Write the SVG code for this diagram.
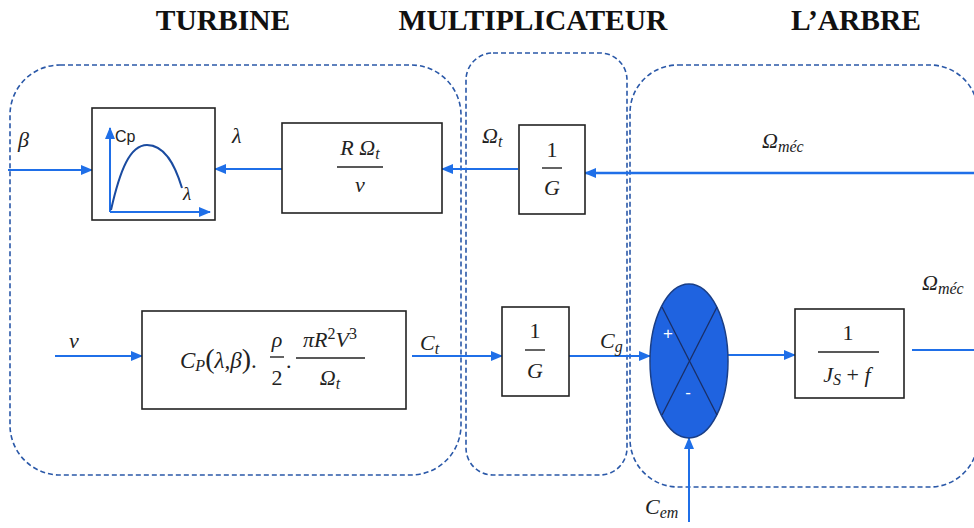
<svg xmlns="http://www.w3.org/2000/svg" width="974" height="528" viewBox="0 0 974 528">
<defs>
<marker id="ah" markerWidth="12" markerHeight="10" refX="11" refY="5" orient="auto" markerUnits="userSpaceOnUse">
<path d="M0,0 L12,5 L0,10 Z" fill="#1f6fe8"/>
</marker>
<style>
.title{font-family:"Liberation Serif","Times New Roman",serif;font-weight:bold;font-size:29.5px;fill:#111}
.grp{fill:none;stroke:#2a58a8;stroke-width:1.6;stroke-dasharray:5 3}
.box{fill:#fff;stroke:#222;stroke-width:1.6}
.m{font-family:"Liberation Serif","Times New Roman",serif;font-style:italic;font-size:22px;fill:#222}
.mu{font-family:"Liberation Serif","Times New Roman",serif;font-size:22px;fill:#222}
.bar{stroke:#222;stroke-width:1.4}
.arr{fill:none;stroke:#1f6fe8;stroke-width:2;marker-end:url(#ah)}
.ln{fill:none;stroke:#1f6fe8;stroke-width:2}
.sub{font-size:16px}
</style>
</defs>

<g id="titles">
<text class="title" x="223" y="30" text-anchor="middle">TURBINE</text>
<text class="title" x="533" y="30" text-anchor="middle">MULTIPLICATEUR</text>
<text class="title" x="856" y="30" text-anchor="middle">L’ARBRE</text>
</g>

<g id="groups">
<rect id="grp-turbine" class="grp" x="10" y="65" width="451" height="410" rx="50"/>
<rect id="grp-multiplicateur" class="grp" x="466" y="53" width="161" height="422" rx="27"/>
<rect id="grp-arbre" class="grp" x="630" y="65" width="348" height="422" rx="48"/>
</g>

<g id="connectors">
<line class="arr" x1="8" y1="170" x2="92" y2="170"/>
<line class="arr" x1="282" y1="169" x2="215" y2="169"/>
<line class="arr" x1="518" y1="169" x2="442" y2="169"/>
<line class="arr" x1="974" y1="173" x2="585" y2="173" style="stroke-width:2.6"/>
<line class="arr" x1="55" y1="356" x2="142" y2="356"/>
<line class="arr" x1="412" y1="356" x2="502" y2="356"/>
<line class="arr" x1="569" y1="356" x2="650" y2="356"/>
<line class="arr" x1="728" y1="355" x2="795" y2="355"/>
<line class="ln" x1="912" y1="350" x2="974" y2="350"/>
<line class="arr" x1="689" y1="522" x2="689" y2="438"/>
</g>

<g id="node-cp-curve">
<rect class="box" x="92" y="108" width="123" height="112"/>
<line class="arr" x1="110" y1="212" x2="110" y2="128"/>
<line class="arr" x1="110" y1="212" x2="210" y2="212"/>
<path d="M111,210 C120,170 130,145 147,145 C165,145 175,165 182,188" fill="none" stroke="#1a4ba0" stroke-width="2"/>
<text x="115" y="142" font-family="'Liberation Sans',Arial,sans-serif" font-size="16" fill="#222">Cp</text>
<text x="183" y="200" font-family="'Liberation Serif',serif" font-style="italic" font-size="19" fill="#222">λ</text>
</g>

<g id="node-lambda">
<rect class="box" x="282" y="123" width="160" height="90"/>
<text class="m" x="360" y="155" text-anchor="middle">R Ω<tspan class="sub" dy="4">t</tspan></text>
<line class="bar" x1="337" y1="167" x2="383" y2="167"/>
<text class="m" x="360" y="192" text-anchor="middle">v</text>
</g>

<g id="node-gain-top">
<rect class="box" x="519" y="125" width="66" height="89"/>
<text class="mu" x="552" y="157" text-anchor="middle">1</text>
<line class="bar" x1="542" y1="168" x2="562" y2="168"/>
<text class="m" x="552" y="195" text-anchor="middle">G</text>
</g>

<g id="node-torque">
<rect class="box" x="142" y="311" width="264" height="98"/>
<text class="m" x="180" y="368" style="font-size:23px">C<tspan class="sub" dy="3">P</tspan><tspan dy="-3" style="font-style:normal;font-size:28px">(</tspan>λ,β<tspan style="font-style:normal;font-size:28px">)</tspan><tspan style="font-style:normal">.</tspan></text>
<text class="m" x="277" y="347" text-anchor="middle">ρ</text>
<line class="bar" x1="270" y1="357" x2="284" y2="357"/>
<text class="mu" x="277" y="385" text-anchor="middle">2</text>
<text class="mu" x="286" y="368">.</text>
<text class="m" x="330" y="347" text-anchor="middle">πR<tspan class="sub" dy="-8" style="font-style:normal">2</tspan><tspan dy="8">V</tspan><tspan class="sub" dy="-8" style="font-style:normal">3</tspan></text>
<line class="bar" x1="296" y1="358" x2="365" y2="358"/>
<text class="m" x="330" y="385" text-anchor="middle">Ω<tspan class="sub" dy="4">t</tspan></text>
</g>

<g id="node-gain-bottom">
<rect class="box" x="502" y="307" width="67" height="89"/>
<text class="mu" x="535" y="338" text-anchor="middle">1</text>
<line class="bar" x1="525" y1="350" x2="545" y2="350"/>
<text class="m" x="535" y="378" text-anchor="middle">G</text>
</g>

<g id="node-sum">
<ellipse cx="689" cy="361" rx="39" ry="77" fill="#1f63e0" stroke="#1a3e86" stroke-width="1.5"/>
<line x1="662" y1="307" x2="717" y2="415" stroke="#1a2f66" stroke-width="1.3"/>
<line x1="717" y1="307" x2="662" y2="415" stroke="#1a2f66" stroke-width="1.3"/>
<text x="668" y="339" font-family="'Liberation Sans',Arial,sans-serif" font-size="17" fill="#fff" text-anchor="middle">+</text>
<text x="688" y="398" font-family="'Liberation Sans',Arial,sans-serif" font-size="17" fill="#fff" text-anchor="middle">-</text>
</g>

<g id="node-inertia">
<rect class="box" x="795" y="309" width="109" height="89"/>
<text class="mu" x="848" y="340" text-anchor="middle">1</text>
<line class="bar" x1="818" y1="352" x2="879" y2="352"/>
<text class="m" x="847" y="382" text-anchor="middle">J<tspan class="sub" dy="3">S</tspan><tspan dy="-3" style="font-style:normal"> + </tspan>f</text>
</g>

<g id="labels">
<text class="m" x="18" y="147">β</text>
<text class="m" x="232" y="143">λ</text>
<text class="m" x="482" y="143">Ω<tspan class="sub" dy="4">t</tspan></text>
<text class="m" x="762" y="148">Ω<tspan class="sub" dy="4">méc</tspan></text>
<text class="m" x="69" y="348">v</text>
<text class="m" x="420" y="350">C<tspan class="sub" dy="4">t</tspan></text>
<text class="m" x="600" y="348">C<tspan class="sub" dy="4">g</tspan></text>
<text class="m" x="922" y="290">Ω<tspan class="sub" dy="4">méc</tspan></text>
<text class="m" x="645" y="514">C<tspan class="sub" dy="4">em</tspan></text>
</g>
</svg>
